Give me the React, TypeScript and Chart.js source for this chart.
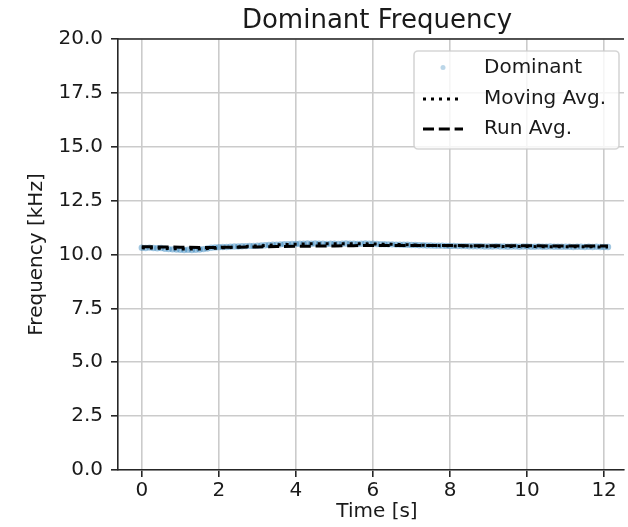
import React, { useEffect, useRef } from "react";
import { Chart, registerables } from "chart.js";

Chart.register(...registerables);

const FONT = "'DejaVu Sans', 'Liberation Sans', sans-serif";

// Sample times of the dominant-frequency estimate [s]
const timeS = [
  0.0, 0.1, 0.2, 0.3, 0.4, 0.5, 0.6, 0.7, 0.8, 0.9,
  1.0, 1.1, 1.2, 1.3, 1.4, 1.5, 1.6, 1.7, 1.8, 1.9,
  2.0, 2.1, 2.2, 2.3, 2.4, 2.5, 2.6, 2.7, 2.8, 2.9,
  3.0, 3.1, 3.2, 3.3, 3.4, 3.5, 3.6, 3.7, 3.8, 3.9,
  4.0, 4.1, 4.2, 4.3, 4.4, 4.5, 4.6, 4.7, 4.8, 4.9,
  5.0, 5.1, 5.2, 5.3, 5.4, 5.5, 5.6, 5.7, 5.8, 5.9,
  6.0, 6.1, 6.2, 6.3, 6.4, 6.5, 6.6, 6.7, 6.8, 6.9,
  7.0, 7.1, 7.2, 7.3, 7.4, 7.5, 7.6, 7.7, 7.8, 7.9,
  8.0, 8.1, 8.2, 8.3, 8.4, 8.5, 8.6, 8.7, 8.8, 8.9,
  9.0, 9.1, 9.2, 9.3, 9.4, 9.5, 9.6, 9.7, 9.8, 9.9,
  10.0, 10.1, 10.2, 10.3, 10.4, 10.5, 10.6, 10.7, 10.8, 10.9,
  11.0, 11.1, 11.2, 11.3, 11.4, 11.5, 11.6, 11.7, 11.8, 11.9,
  12.0, 12.1,
];

// Dominant frequency per frame [kHz]
const dominantKHz = [
  10.31, 10.30, 10.32, 10.30, 10.29, 10.30, 10.27, 10.25, 10.24, 10.23,
  10.22, 10.21, 10.22, 10.21, 10.22, 10.23, 10.25, 10.28, 10.31, 10.33,
  10.34, 10.35, 10.35, 10.36, 10.37, 10.37, 10.38, 10.39, 10.40, 10.40,
  10.41, 10.42, 10.43, 10.44, 10.45, 10.46, 10.47, 10.48, 10.48, 10.49,
  10.49, 10.50, 10.50, 10.51, 10.50, 10.51, 10.50, 10.50, 10.49, 10.50,
  10.50, 10.49, 10.50, 10.51, 10.50, 10.50, 10.49, 10.50, 10.51, 10.50,
  10.50, 10.49, 10.48, 10.48, 10.47, 10.47, 10.46, 10.46, 10.45, 10.45,
  10.44, 10.44, 10.43, 10.43, 10.42, 10.42, 10.41, 10.41, 10.41, 10.40,
  10.40, 10.40, 10.39, 10.39, 10.39, 10.38, 10.38, 10.38, 10.38, 10.37,
  10.37, 10.37, 10.38, 10.37, 10.37, 10.36, 10.37, 10.37, 10.36, 10.37,
  10.37, 10.36, 10.36, 10.37, 10.36, 10.36, 10.37, 10.36, 10.36, 10.36,
  10.36, 10.36, 10.35, 10.36, 10.36, 10.35, 10.36, 10.35, 10.36, 10.35,
  10.35, 10.35,
];

// Averages are kept on a coarser time grid [s]
const avgTimeS = [
  0.0, 0.5, 1.0, 1.5, 2.0, 2.5, 3.0, 3.5, 4.0, 4.5, 5.0, 5.5, 6.0,
  6.5, 7.0, 7.5, 8.0, 8.5, 9.0, 9.5, 10.0, 10.5, 11.0, 11.5, 12.0, 12.1,
];

// Moving average of the dominant frequency [kHz]
const movingAvgKHz = [
  10.31, 10.29, 10.26, 10.25, 10.30, 10.35, 10.40, 10.45, 10.48, 10.50, 10.50, 10.50, 10.49,
  10.47, 10.45, 10.42, 10.40, 10.39, 10.38, 10.37, 10.37, 10.36, 10.36, 10.36, 10.35, 10.35,
];

// Running (cumulative) average [kHz]
const runAvgKHz = [
  10.36, 10.35, 10.34, 10.33, 10.33, 10.34, 10.35, 10.37, 10.38, 10.39, 10.40, 10.41, 10.42,
  10.42, 10.42, 10.42, 10.42, 10.41, 10.41, 10.41, 10.41, 10.40, 10.40, 10.40, 10.40, 10.40,
];

const xTicks = [0, 2, 4, 6, 8, 10, 12];
const yTicks = [0, 2.5, 5, 7.5, 10, 12.5, 15, 17.5, 20];

const TITLE = "Dominant Frequency";
const X_LABEL = "Time [s]";
const Y_LABEL = "Frequency [kHz]";

const SPINE = "#262626";
const GRID = "#cbcbcb";
const TEXT = "#1a1a1a";
const DOT = "rgba(31,119,180,0.30)";

// The axes extend a little past the right edge of the canvas; this is their centre
const AXES_CENTER_X = 377;

// Axes title, x label and the top spine
const frameAndTitle = {
  id: "frameAndTitle",
  afterDatasetsDraw(chart: any) {
    const { ctx, chartArea } = chart;
    ctx.save();
    ctx.strokeStyle = SPINE;
    ctx.lineWidth = 1.6;
    ctx.beginPath();
    ctx.moveTo(chartArea.left - 0.8, chartArea.top);
    ctx.lineTo(chartArea.right, chartArea.top);
    ctx.stroke();

    ctx.fillStyle = TEXT;
    ctx.textAlign = "center";
    ctx.textBaseline = "alphabetic";
    ctx.font = `26px ${FONT}`;
    ctx.fillText(TITLE, AXES_CENTER_X, 28);

    ctx.font = `20px ${FONT}`;
    ctx.fillText(X_LABEL, AXES_CENTER_X, 517);
    ctx.restore();
  },
};

// Framed legend in the upper-right corner of the axes
const cornerLegend = {
  id: "cornerLegend",
  afterDraw(chart: any) {
    const { ctx } = chart;
    const ds = chart.data.datasets;
    const box = { x: 414, y: 51, w: 205, h: 98 };
    ctx.save();
    ctx.beginPath();
    ctx.roundRect(box.x, box.y, box.w, box.h, 4);
    ctx.fillStyle = "rgba(255,255,255,0.8)";
    ctx.fill();
    ctx.strokeStyle = "rgba(204,204,204,0.8)";
    ctx.lineWidth = 1.6;
    ctx.stroke();

    const rows = [67.5, 99, 129];
    const hx0 = 423;
    const hx1 = 463;
    ds.forEach((d: any, i: number) => {
      const y = rows[i];
      if (d.showLine === false) {
        ctx.beginPath();
        ctx.arc((hx0 + hx1) / 2, y, 2.5, 0, Math.PI * 2);
        ctx.fillStyle = DOT;
        ctx.fill();
      } else {
        ctx.beginPath();
        ctx.setLineDash(d.borderDash || []);
        ctx.strokeStyle = d.borderColor;
        ctx.lineWidth = d.borderWidth;
        ctx.moveTo(hx0, y);
        ctx.lineTo(hx1, y);
        ctx.stroke();
        ctx.setLineDash([]);
      }
      ctx.fillStyle = TEXT;
      ctx.font = `20px ${FONT}`;
      ctx.textAlign = "left";
      ctx.textBaseline = "middle";
      ctx.fillText(d.label, 484, y);
    });
    ctx.restore();
  },
};

export default function App() {
  const ref = useRef<HTMLCanvasElement>(null);

  useEffect(() => {
    const canvas = ref.current;
    if (!canvas) return;

    const chart = new Chart(canvas, {
      type: "line",
      data: {
        datasets: [
          {
            label: "Dominant",
            data: timeS.map((t, i) => ({ x: t, y: dominantKHz[i] })),
            showLine: false,
            pointRadius: 3.2,
            pointBorderWidth: 0,
            backgroundColor: "rgba(31,119,180,0.42)",
            borderColor: "rgba(31,119,180,0.42)",
            order: 3,
          },
          {
            label: "Moving Avg.",
            data: avgTimeS.map((t, i) => ({ x: t, y: movingAvgKHz[i] })),
            borderColor: "#000",
            borderWidth: 3,
            borderDash: [3, 5],
            pointRadius: 0,
            fill: false,
            tension: 0,
            order: 2,
          },
          {
            label: "Run Avg.",
            data: avgTimeS.map((t, i) => ({ x: t, y: runAvgKHz[i] })),
            borderColor: "#000",
            borderWidth: 3,
            borderDash: [11, 4.8],
            pointRadius: 0,
            fill: false,
            tension: 0,
            order: 1,
          },
        ],
      } as any,
      options: {
        animation: false,
        responsive: false,
        devicePixelRatio: 1,
        layout: { padding: { left: 0, top: 39, right: 0, bottom: 0 } },
        plugins: {
          legend: { display: false },
          tooltip: { enabled: false },
          title: { display: false },
        },
        scales: {
          x: {
            type: "linear",
            min: -0.618,
            max: 12.516,
            afterBuildTicks: (scale: any) => {
              scale.ticks = xTicks.map((v) => ({ value: v }));
            },
            afterFit: (scale: any) => {
              scale.height = 57;
            },
            grid: {
              color: GRID,
              lineWidth: 1.6,
              drawTicks: true,
              tickLength: 7,
              tickColor: SPINE,
              tickWidth: 1.6,
            },
            border: { display: true, color: SPINE, width: 1.6 },
            ticks: {
              color: TEXT,
              font: { family: FONT, size: 20 },
              padding: 2,
              maxRotation: 0,
              callback: (v: any) => String(v),
            },
            title: { display: false, text: X_LABEL },
          },
          y: {
            type: "linear",
            min: 0,
            max: 20,
            afterBuildTicks: (scale: any) => {
              scale.ticks = yTicks.map((v) => ({ value: v }));
            },
            afterFit: (scale: any) => {
              scale.width = 118;
            },
            grid: {
              color: GRID,
              lineWidth: 1.6,
              drawTicks: true,
              tickLength: 7,
              tickColor: SPINE,
              tickWidth: 1.6,
            },
            border: { display: true, color: SPINE, width: 1.6 },
            ticks: {
              color: TEXT,
              font: { family: FONT, size: 20 },
              padding: 8,
              callback: (v: any) => Number(v).toFixed(1),
            },
            title: {
              display: true,
              text: Y_LABEL,
              color: TEXT,
              font: { family: FONT, size: 20 },
              padding: { top: 25, bottom: 0 },
            },
          },
        },
      } as any,
      plugins: [frameAndTitle, cornerLegend],
    });

    return () => chart.destroy();
  }, []);

  return (
    <div
      style={{
        position: "absolute",
        left: 0,
        top: 0,
        width: 628,
        height: 527,
        background: "#ffffff",
        overflow: "hidden",
      }}
    >
      <canvas ref={ref} width={628} height={527} style={{ display: "block", width: 628, height: 527 }} />
    </div>
  );
}
